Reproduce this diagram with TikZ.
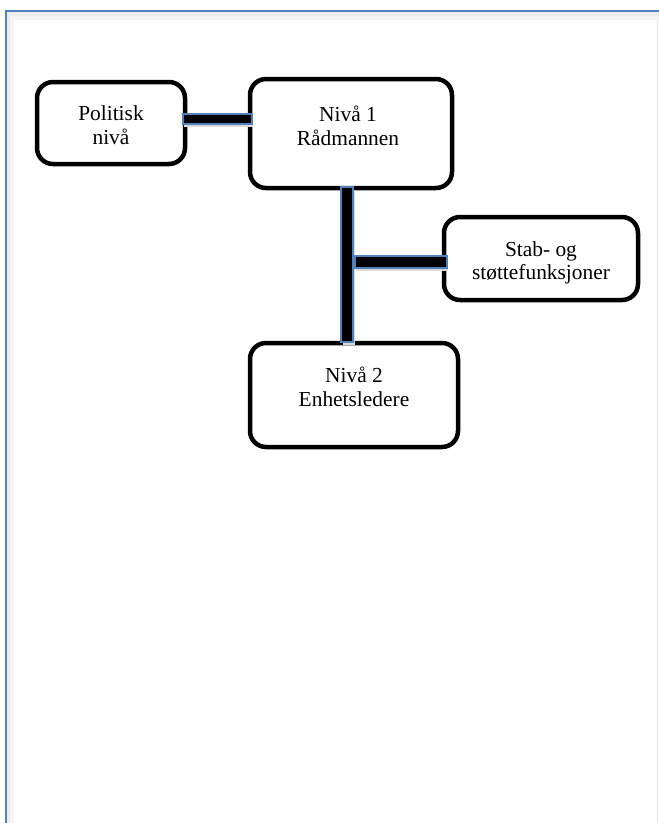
\documentclass[tikz,border=0pt]{standalone}
\usepackage{fontspec}
\setmainfont{Liberation Serif}
\usetikzlibrary{calc}
\definecolor{frameblue}{HTML}{4F81BD}
\definecolor{barblue}{HTML}{4F81BD}
\tikzset{
  box/.style={draw=black, line width=4.5pt, rounded corners=16pt, fill=white, inner sep=0pt, outer sep=0pt},
  txt/.style={font=\fontsize{21.4}{23.5}\selectfont, align=center, inner sep=0pt},
  bar/.style={fill=black, draw=barblue, line width=1.5pt},
  barshadow/.style={fill=black!15, draw=none},
}
\begin{document}
\begin{tikzpicture}[x=1pt, y=-1pt]
\useasboundingbox (0,0) rectangle (659,823);
\fill[white] (0,0) rectangle (659,823);
% page frame with soft shadow
\fill[black!4] (6,11) rectangle (659,20);
\fill[black!4] (6,11) rectangle (14,823);
\fill[black!7] (6,11) rectangle (659,16);
\fill[black!7] (6,11) rectangle (10,823);
\draw[black!10, line width=1pt] (657.5,20) -- (657.5,823);
\draw[frameblue, line width=2pt] (6,823) -- (6,11) -- (659,11);

% boxes
\node[box, minimum width=148pt, minimum height=82pt] (pol) at (111,123) {};
\node[box, minimum width=202pt, minimum height=109pt] (n1) at (351,133.5) {};
\node[box, minimum width=194pt, minimum height=83pt] (stab) at (541,258.5) {};
\node[box, minimum width=208pt, minimum height=104pt] (n2) at (354,395) {};

% texts
\node[txt] (tpol) at (111,125) {Politisk\\nivå};
\node[txt] (tn1) at (348,126) {Nivå 1\\Rådmannen};
\node[txt] (tstab) at (541,263) {Stab- og\\støttefunksjoner};
\node[txt] (tn2) at (354,387) {Nivå 2\\Enhetsledere};

% connectors (thick bars)
\coordinate (b1a) at ($(pol.east)+(-2,-9)$);
\coordinate (b1b) at ($(n1.west |- pol.east)+(2,1)$);
\coordinate (b2a) at ($(n1.south)+(-10,-1)$);
\coordinate (b2b) at ($(n1.south |- n2.north)+(2,-1)$);
\coordinate (b3a) at ($(stab.west)+(-89,-2.5)$);
\coordinate (b3b) at ($(stab.west)+(3,9.5)$);

\fill[barshadow] ($(b1a)+(1,3)$) rectangle ($(b1b)+(1,3)$);
\fill[barshadow] ($(b2a)+(2,3)$) rectangle ($(b2b)+(2,3)$);
\fill[barshadow] ($(b3a)+(1,3)$) rectangle ($(b3b)+(1,3)$);

\draw[bar] (b1a) rectangle (b1b);
\draw[bar] (b2a) rectangle (b2b);
\draw[bar] (b3a) rectangle (b3b);
\end{tikzpicture}
\end{document}
